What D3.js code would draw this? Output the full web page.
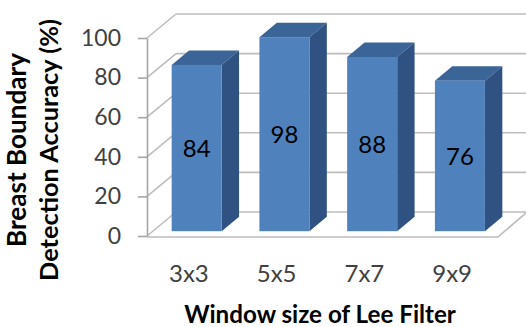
<!DOCTYPE html>
<html>
<head>
<meta charset="utf-8">
<script src="https://cdn.jsdelivr.net/npm/d3@7"></script>
<style>
  html, body { margin: 0; padding: 0; background: #fff; }
  svg { display: block; }
  text { font-family: Lato, "Open Sans", sans-serif; }
</style>
</head>
<body>
<svg id="chart" width="526" height="327"></svg>
<script>
const categories = ["3x3", "5x5", "7x7", "9x9"];
const values = [84, 98, 88, 76];
const yTicks = [0, 20, 40, 60, 80, 100];
const xTitle = "Window size of Lee Filter";
const yTitleLines = ["Breast Boundary", "Detection Accuracy (%)"];

const W = 526, H = 327;
const DX = 29, DY = -24;          // depth projection
const Z0 = 0.2, Z1 = 0.8;         // bar depth range
const barFrac = 0.57;

const svg = d3.select("#chart");

// scale a text's font size so its rendered width matches a target width
function fitWidth(sel, target) {
  sel.each(function() {
    const t = d3.select(this);
    const fs = parseFloat(t.style("font-size"));
    const w = this.getComputedTextLength();
    if (w > 0) t.style("font-size", (fs * target / w) + "px");
  });
}

const x = d3.scaleBand().domain(categories).range([147, 498]).padding(0);
const y = d3.scaleLinear().domain([0, 100]).range([236, 38]);

const gridColor = "#BDBDBD";

// back wall gridlines
const g = svg.append("g");
g.selectAll("line.back").data(yTicks).join("line")
  .attr("x1", 147 + DX).attr("x2", W + 5)
  .attr("y1", d => y(d) + DY).attr("y2", d => y(d) + DY)
  .attr("stroke", gridColor).attr("stroke-width", 1.6);

// side wall diagonals
g.selectAll("line.side").data(yTicks).join("line")
  .attr("x1", 147).attr("x2", 147 + DX)
  .attr("y1", d => y(d)).attr("y2", d => y(d) + DY)
  .attr("stroke", gridColor).attr("stroke-width", 1.6);

// floor outline
const r0 = x.range()[1];
g.append("path")
  .attr("d", `M${147},${y(0)+1}L${r0},${y(0)+1}L${r0 + DX},${y(0) + DY}`)
  .attr("fill", "none").attr("stroke", gridColor).attr("stroke-width", 1.6);

// y axis
const yAxis = d3.axisLeft(y).tickValues(yTicks).tickSize(9).tickSizeOuter(0).tickPadding(17);
const ya = svg.append("g").attr("transform", "translate(147,0)").call(yAxis);
ya.select(".domain").attr("stroke", "#A6A6A6").attr("stroke-width", 1.6);
ya.selectAll(".tick line").attr("stroke", "#A6A6A6").attr("stroke-width", 1.6);
ya.selectAll(".tick text").attr("fill", "#404040").style("font-size", "23px")
  .style("font-family", "Lato, sans-serif");

// bars
const bw = x.bandwidth() * barFrac;
const bars = svg.append("g").selectAll("g.bar").data(categories.map((c, i) => ({c, v: values[i]}))).join("g");

bars.each(function(d) {
  const gg = d3.select(this);
  const cx = x(d.c) + x.bandwidth() / 2;
  const xl = cx - bw / 2 + Z0 * DX, xr = cx + bw / 2 + Z0 * DX;
  const yt = y(d.v) + Z0 * DY, yb = y(0) + Z0 * DY;
  const dx = (Z1 - Z0) * DX, dy = (Z1 - Z0) * DY;
  // top
  gg.append("path").attr("d", `M${xl},${yt}L${xl+dx},${yt+dy}L${xr+dx},${yt+dy}L${xr},${yt}Z`)
    .attr("fill", "#3B6497");
  // side
  gg.append("path").attr("d", `M${xr},${yt}L${xr+dx},${yt+dy}L${xr+dx},${yb+dy}L${xr},${yb}Z`)
    .attr("fill", "#2F5282");
  // front
  gg.append("rect").attr("x", xl).attr("y", yt).attr("width", xr - xl).attr("height", yb - yt)
    .attr("fill", "#4F81BD");
  // label
  gg.append("text").attr("x", (xl + xr) / 2).attr("y", (yt + yb) / 2).attr("dy", "0.36em")
    .attr("text-anchor", "middle").attr("fill", "#000").style("font-size", "24px")
    .text(d.v);
});

// x axis labels
const xAxis = d3.axisBottom(x).tickSize(0).tickPadding(29);
const xa = svg.append("g").attr("transform", `translate(-2,${y(0)+1})`).call(xAxis);
xa.select(".domain").remove();
xa.selectAll(".tick text").attr("fill", "#404040").style("font-size", "24px")
  .style("font-family", "Lato, sans-serif").attr("dy", "0.68em");

// axis titles
const xt = svg.append("text").attr("x", 320).attr("y", 323).attr("text-anchor", "middle")
  .style("font-size", "21px").style("font-weight", "bold").attr("fill", "#000").text(xTitle);
fitWidth(xt, 272);

const yt = svg.append("g").attr("transform", "translate(0,150) rotate(-90)")
  .selectAll("text").data(yTitleLines).join("text")
  .attr("x", 0).attr("y", (d, i) => 26 + i * 32)
  .attr("text-anchor", "middle").style("font-size", "21px").style("font-weight", "bold")
  .attr("fill", "#000").text(d => d);
fitWidth(yt.filter((d, i) => i === 0), 194);
fitWidth(yt.filter((d, i) => i === 1), 262);
</script>
</body>
</html>
